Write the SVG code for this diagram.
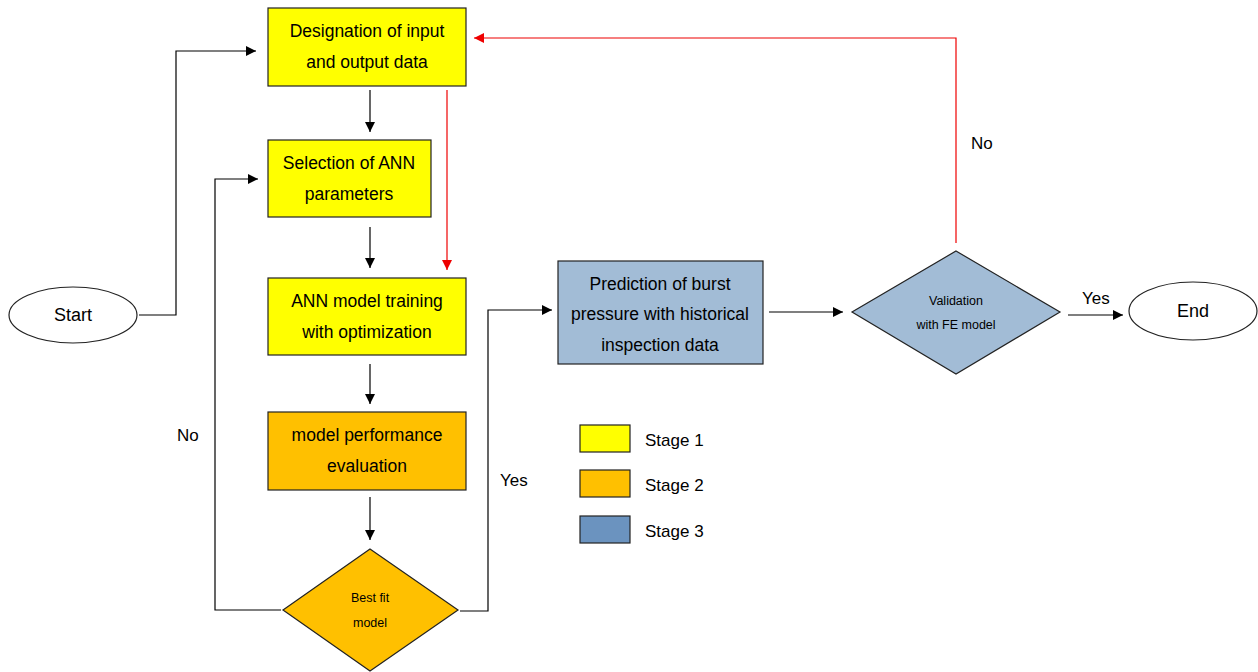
<svg xmlns="http://www.w3.org/2000/svg" width="1258" height="672" viewBox="0 0 1258 672">
<defs>
<marker id="ab" viewBox="0 0 10 10" refX="10" refY="5" markerWidth="10" markerHeight="10" markerUnits="userSpaceOnUse" orient="auto"><path d="M0,0 L10,5 L0,10 z" fill="#000"/></marker>
<marker id="ar" viewBox="0 0 10 10" refX="10" refY="5" markerWidth="10" markerHeight="10" markerUnits="userSpaceOnUse" orient="auto"><path d="M0,0 L10,5 L0,10 z" fill="#e00"/></marker>
<style>
.t{font-family:"Liberation Sans",Arial,sans-serif;font-size:17.5px;fill:#000;text-anchor:middle}
.s{font-family:"Liberation Sans",Arial,sans-serif;font-size:12.5px;fill:#000;text-anchor:middle}
.l{font-family:"Liberation Sans",Arial,sans-serif;font-size:17px;fill:#000}
.y{fill:#ffff00;stroke:#222;stroke-width:1.2}
.o{fill:#ffc000;stroke:#222;stroke-width:1.2}
.b{fill:#a2bcd6;stroke:#222;stroke-width:1.2}
.bl{fill:#6b93bf;stroke:#222;stroke-width:1.2}
.e{fill:#fff;stroke:#222;stroke-width:1.2}
.c{fill:none;stroke:#000;stroke-width:1.2}
.cr{fill:none;stroke:#e00;stroke-width:1.2}
</style>
</defs>
<rect width="1258" height="672" fill="#fff"/>
<g id="connectors">
<path class="c" d="M139,315 H176 V51 H256" marker-end="url(#ab)"/>
<path class="c" d="M370,90 V132" marker-end="url(#ab)"/>
<path class="c" d="M370,227 V268" marker-end="url(#ab)"/>
<path class="c" d="M370,364 V404" marker-end="url(#ab)"/>
<path class="c" d="M370,497 V540" marker-end="url(#ab)"/>
<path class="cr" d="M447,90 V270" marker-end="url(#ar)"/>
<path class="cr" d="M956,243 V38 H474" marker-end="url(#ar)"/>
<path class="c" d="M281,610 H215 V179 H258" marker-end="url(#ab)"/>
<path class="c" d="M460,611 H488 V310 H552" marker-end="url(#ab)"/>
<path class="c" d="M769,312 H843" marker-end="url(#ab)"/>
<path class="c" d="M1068,315 H1123" marker-end="url(#ab)"/>
<text class="l" x="971" y="149">No</text>
<text class="l" x="177" y="441">No</text>
<text class="l" x="500" y="486">Yes</text>
<text class="l" x="1082" y="304">Yes</text>
</g>
<g id="start"><ellipse class="e" cx="73" cy="315" rx="64" ry="28"/><text class="t" x="73" y="321" style="font-size:18px">Start</text></g>
<g id="designation"><rect class="y" x="268" y="8" width="198" height="78"/><text class="t" x="367" y="37">Designation of input</text><text class="t" x="367" y="68">and output data</text></g>
<g id="selection"><rect class="y" x="268" y="140" width="163" height="77"/><text class="t" x="349" y="169">Selection of ANN</text><text class="t" x="349" y="200">parameters</text></g>
<g id="training"><rect class="y" x="268" y="278" width="198" height="77"/><text class="t" x="367" y="307">ANN model training</text><text class="t" x="367" y="338">with optimization</text></g>
<g id="evaluation"><rect class="o" x="268" y="412" width="198" height="78"/><text class="t" x="367" y="441">model performance</text><text class="t" x="367" y="472">evaluation</text></g>
<g id="bestfit"><polygon class="o" points="370,549 458,610 370,671 283,610"/><text class="s" x="370" y="602">Best fit</text><text class="s" x="370" y="627">model</text></g>
<g id="prediction"><rect class="b" x="558" y="261" width="205" height="103"/><text class="t" x="660" y="290">Prediction of burst</text><text class="t" x="660" y="320">pressure with historical</text><text class="t" x="660" y="351">inspection data</text></g>
<g id="validation"><polygon class="b" points="956,251 1060,312 956,374 852,312"/><text class="s" x="956" y="305">Validation</text><text class="s" x="956" y="329">with FE model</text></g>
<g id="end"><ellipse class="e" cx="1193" cy="311" rx="64" ry="29"/><text class="t" x="1193" y="317" style="font-size:18px">End</text></g>
<g id="legend">
<rect class="y" x="580" y="425" width="50" height="27"/><text class="l" x="645" y="446">Stage 1</text>
<rect class="o" x="580" y="470" width="50" height="27"/><text class="l" x="645" y="491">Stage 2</text>
<rect class="bl" x="580" y="516" width="50" height="27"/><text class="l" x="645" y="537">Stage 3</text>
</g>
</svg>
